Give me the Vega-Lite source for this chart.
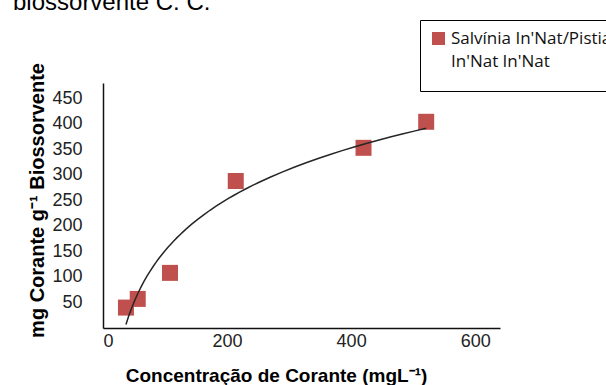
{
  "$schema": "https://vega.github.io/schema/vega-lite/v6.json",
  "width": 397,
  "height": 245,
  "autosize": {"type": "none"},
  "padding": {"left": 103, "top": 83, "right": 106, "bottom": 57},
  "background": "white",
  "title": {
    "text": "biossorvente C. C.",
    "anchor": "start",
    "frame": "group",
    "fontSize": 24,
    "font": "Liberation Sans",
    "fontWeight": "normal",
    "color": "#000000",
    "baseline": "alphabetic",
    "dx": -90,
    "dy": 24,
    "offset": 10
  },
  "config": {
    "view": {"stroke": null},
    "style": {"guide-label": {"lineHeight": 23}},
    "axis": {
      "grid": false,
      "ticks": false,
      "labelOverlap": false,
      "domainColor": "#111111",
      "domainWidth": 1.5,
      "labelFont": "Liberation Sans",
      "labelFontSize": 18,
      "labelColor": "#222222",
      "titleFont": "Liberation Sans",
      "titleFontWeight": "bold",
      "titleColor": "#000000"
    },
    "axisY": {"labelOverlap": false},
    "axisQuantitative": {"labelOverlap": false}
  },
  "data": {
    "values": [
      {"conc": 37, "q": 40, "serie": "Salvínia In'Nat/Pistia In'Nat  In'Nat"},
      {"conc": 56, "q": 57, "serie": "Salvínia In'Nat/Pistia In'Nat  In'Nat"},
      {"conc": 108, "q": 108, "serie": "Salvínia In'Nat/Pistia In'Nat  In'Nat"},
      {"conc": 214, "q": 288, "serie": "Salvínia In'Nat/Pistia In'Nat  In'Nat"},
      {"conc": 420, "q": 353, "serie": "Salvínia In'Nat/Pistia In'Nat  In'Nat"},
      {"conc": 521, "q": 404, "serie": "Salvínia In'Nat/Pistia In'Nat  In'Nat"}
    ]
  },
  "layer": [
    {
      "mark": {"type": "square", "size": 256, "opacity": 1},
      "encoding": {
        "x": {
          "field": "conc",
          "type": "quantitative",
          "scale": {"domain": [0, 640], "nice": false, "zero": true},
          "axis": {
            "values": [0, 200, 400, 600],
            "labelOverlap": false,
            "labelPadding": 4,
            "title": "Concentração de Corante (mgL⁻¹)",
            "titleFontSize": 19,
            "titleX": 173,
            "titleY": 53,
            "titleBaseline": "alphabetic"
          }
        },
        "y": {
          "field": "q",
          "type": "quantitative",
          "scale": {"domain": [0, 480], "nice": false},
          "axis": {
            "values": [50, 100, 150, 200, 250, 300, 350, 400, 450],
            "tickCount": 10,
            "labelOverlap": false,
            "labelPadding": 21,
            "title": "mg Corante g⁻¹  Biossorvente",
            "titleFontSize": 20,
            "titlePadding": 4,
            "titleY": 117
          }
        },
        "color": {
          "field": "serie",
          "type": "nominal",
          "scale": {"range": ["#C0504D"]},
          "legend": {
            "orient": "none",
            "legendX": 317,
            "legendY": -63,
            "title": " ",
            "titleOrient": "bottom",
            "titleFontSize": 12,
            "titlePadding": 0,
            "symbolType": "square",
            "symbolSize": 169,
            "symbolStrokeWidth": 0,
            "padding": 10,
            "strokeColor": "#000000",
            "fillColor": "#ffffff",
            "labelFont": "Open Sans",
            "labelFontSize": 17,
            "labelColor": "#111111",
            "labelLimit": 400,
            "labelOffset": 4,
            "labelExpr": "[\"Salvínia In'Nat/Pistia\", \"In'Nat  In'Nat\"]",
            "encode": {
              "labels": {
                "update": {"lineHeight": {"value": 23}, "dy": {"value": 11.5}}
              }
            }
          }
        }
      }
    },
    {
      "transform": [{"regression": "q", "on": "conc", "method": "log"}],
      "mark": {"type": "line", "color": "#262626", "strokeWidth": 1.5},
      "encoding": {
        "x": {"field": "conc", "type": "quantitative"},
        "y": {"field": "q", "type": "quantitative"}
      }
    }
  ]
}
